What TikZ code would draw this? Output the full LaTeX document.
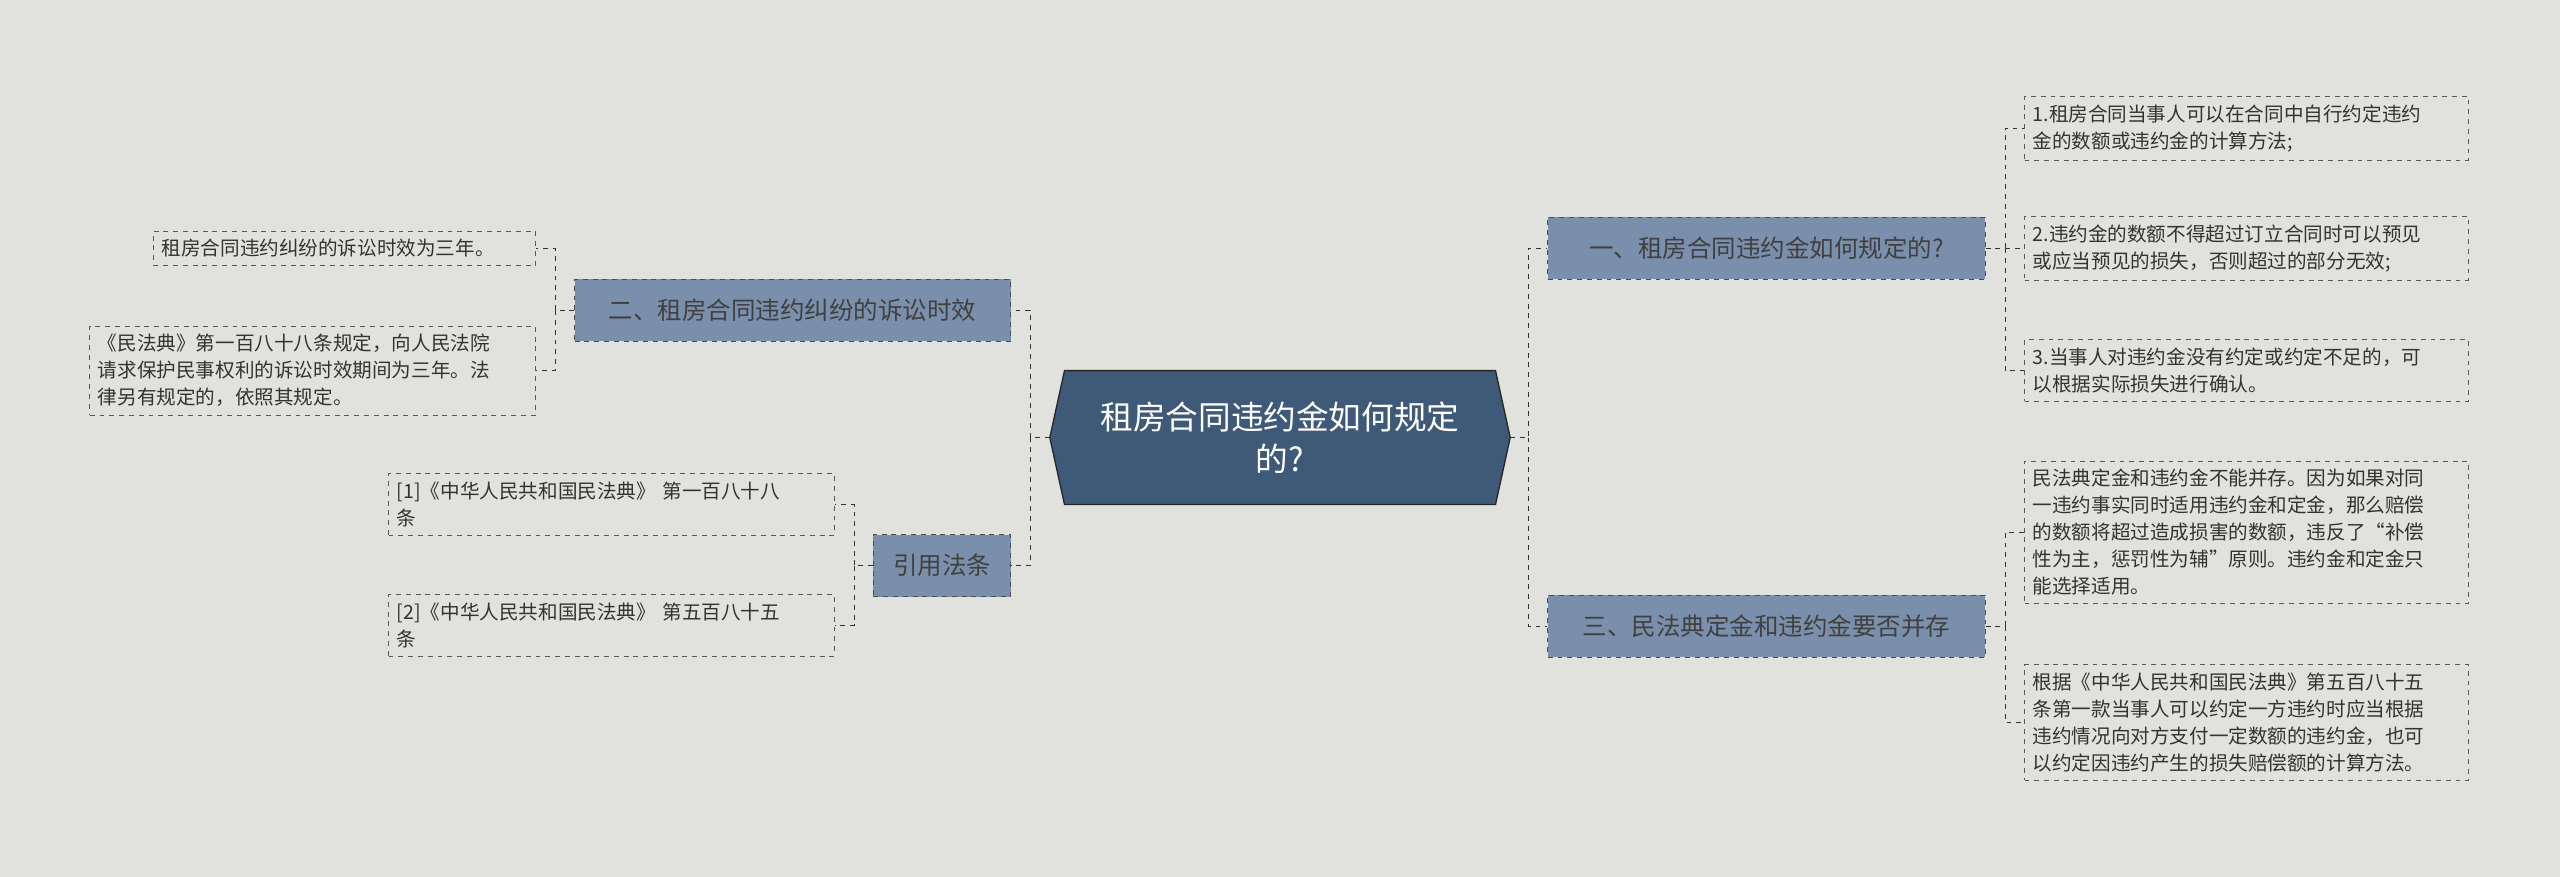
\documentclass[tikz,border=0pt]{standalone}
\usepackage{fontspec}
\setmainfont{Noto Sans CJK SC}
\begin{document}
\begin{tikzpicture}[x=1pt,y=-1pt,
  leaf/.style={draw=black!65,dashed,inner sep=5pt,font=\fontsize{12}{16.5}\selectfont,text=black!80,align=left,anchor=center,text width=#1},
  branch/.style={draw=black!70,dashed,fill=branchc,inner sep=3pt,font=\fontsize{15}{18}\selectfont,text=black!75,minimum height=38pt,anchor=center},
  conn/.style={draw=black!80,dashed,thin}]
\definecolor{bg}{HTML}{E1E2DD}
\definecolor{branchc}{HTML}{7A8FAB}
\definecolor{centc}{HTML}{3F5A78}
\useasboundingbox[fill=bg] (0,0) rectangle (1568,537);
% central
\draw[fill=centc,draw=black!85,thick] (643,268)--(652,227)--(916,227)--(925,268)--(916,309)--(652,309)--cycle;
\node[text=white,font=\fontsize{20}{26}\selectfont,align=center] (c) at (784,268) {租房合同违约金如何规定\\的?};
\coordinate (cr) at (925,268); \coordinate (cl) at (643,268);
% branches
\node[branch,minimum width=268pt] (b1) at (1082,152) {一、租房合同违约金如何规定的?};
\node[branch,minimum width=268pt] (b3) at (1082,383.5) {三、民法典定金和违约金要否并存};
\node[branch,minimum width=267pt] (b2) at (485.5,190) {二、租房合同违约纠纷的诉讼时效};
\node[branch,minimum width=84pt] (b4) at (577,346.5) {引用法条};
% leaves right
\node[leaf=262pt] (r1) at (1376,78.5) {1.租房合同当事人可以在合同中自行约定违约\\金的数额或违约金的计算方法;};
\node[leaf=262pt] (r2) at (1376,152) {2.违约金的数额不得超过订立合同时可以预见\\或应当预见的损失，否则超过的部分无效;};
\node[leaf=262pt] (r3) at (1376,227) {3.当事人对违约金没有约定或约定不足的，可\\以根据实际损失进行确认。};
\node[leaf=262pt] (r4) at (1376,326) {民法典定金和违约金不能并存。因为如果对同\\一违约事实同时适用违约金和定金，那么赔偿\\的数额将超过造成损害的数额，违反了“补偿\\性为主，惩罚性为辅”原则。违约金和定金只\\能选择适用。};
\node[leaf=262pt] (r5) at (1376,442.5) {根据《中华人民共和国民法典》第五百八十五\\条第一款当事人可以约定一方违约时应当根据\\违约情况向对方支付一定数额的违约金，也可\\以约定因违约产生的损失赔偿额的计算方法。};
% leaves left
\node[leaf=224pt] (l1) at (211,152) {租房合同违约纠纷的诉讼时效为三年。};
\node[leaf=263pt] (l2) at (191.5,227) {《民法典》第一百八十八条规定，向人民法院\\请求保护民事权利的诉讼时效期间为三年。法\\律另有规定的，依照其规定。};
\node[leaf=263pt] (l3) at (374.5,309) {[1]《中华人民共和国民法典》 第一百八十八\\条};
\node[leaf=263pt] (l4) at (374.5,383) {[2]《中华人民共和国民法典》 第五百八十五\\条};
% connectors
\draw[conn] (cr)--(936,268) |- (b1.west);
\draw[conn] (936,268) |- (b3.west);
\draw[conn] (cl)--(631,268) |- (b2.east);
\draw[conn] (631,268) |- (b4.east);
\draw[conn] (b1.east)--(1228,152) |- (r1.west);
\draw[conn] (1228,152) -- (r2.west);
\draw[conn] (1228,152) |- (r3.west);
\draw[conn] (b3.east)--(1228,383.5) |- (r4.west);
\draw[conn] (1228,383.5) |- (r5.west);
\draw[conn] (b2.west)--(340,190) |- (l1.east);
\draw[conn] (340,190) |- (l2.east);
\draw[conn] (b4.west)--(523,346.5) |- (l3.east);
\draw[conn] (523,346.5) |- (l4.east);
\end{tikzpicture}
\end{document}
